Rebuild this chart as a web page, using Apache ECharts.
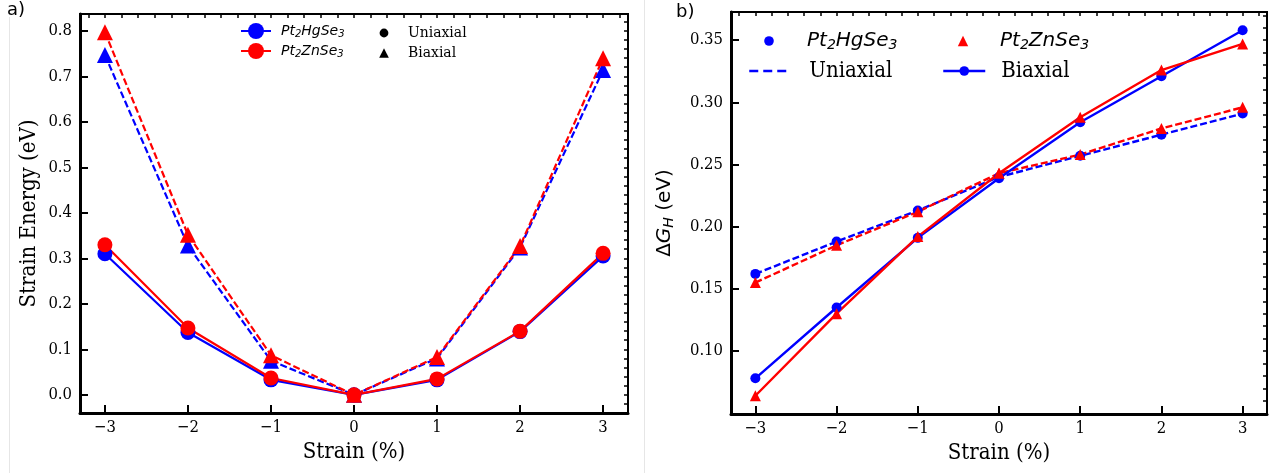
<!DOCTYPE html>
<html>
<head>
<meta charset="utf-8">
<script src="https://cdn.jsdelivr.net/npm/echarts@6/dist/echarts.min.js"></script>
<style>
  html, body { margin: 0; padding: 0; background: #fff; }
  #chart { width: 1276px; height: 473px; }
</style>
</head>
<body>
<div id="chart"></div>
<script>
// strain (%)
const strain = [-3, -2, -1, 0, 1, 2, 3]

// a) strain energy (eV)
const energyHgUni = [0.310, 0.137, 0.033, 0.000, 0.033, 0.139, 0.305]
const energyZnUni = [0.330, 0.147, 0.037, 0.000, 0.035, 0.140, 0.311]
const energyHgBi = [0.747, 0.328, 0.075, 0.000, 0.080, 0.324, 0.714]
const energyZnBi = [0.797, 0.352, 0.087, 0.000, 0.083, 0.327, 0.740]

// b) ΔG_H (eV)
const dgHgUni = [0.162, 0.188, 0.213, 0.240, 0.257, 0.274, 0.291]
const dgZnUni = [0.155, 0.185, 0.212, 0.243, 0.258, 0.279, 0.296]
const dgHgBi = [0.078, 0.135, 0.191, 0.239, 0.284, 0.321, 0.358]
const dgZnBi = [0.064, 0.130, 0.192, 0.243, 0.288, 0.326, 0.347]

// tick labels
const xTicks = [-3, -2, -1, 0, 1, 2, 3]
const energyTicks = [0.0, 0.1, 0.2, 0.3, 0.4, 0.5, 0.6, 0.7, 0.8]
const dgTicks = [0.10, 0.15, 0.20, 0.25, 0.30, 0.35]

const BLUE = '#0000ff'
const RED = '#ff0000'
const SERIF = "'DejaVu Serif Condensed', 'DejaVu Serif'"
const SANS = 'DejaVu Sans'

// minor tick positions
function steps(lo, hi, step) {
  const out = []
  for (let v = lo; v <= hi + 1e-9; v += step) out.push(Math.round(v * 1000) / 1000)
  return out
}
const minus = s => String(s).replace('-', '\u2212')

const pairs = values => strain.map((s, i) => [s, values[i]])

function line(name, values, g, color, symbol, size, dashed, width) {
  return {
    name: name,
    type: 'line',
    xAxisIndex: g * 2,
    yAxisIndex: g * 2,
    data: pairs(values),
    symbol: symbol,
    symbolSize: size,
    showAllSymbol: true,
    color: color,
    lineStyle: { color: color, width: width, type: dashed ? [7, 3] : 'solid' },
    itemStyle: { color: color, borderWidth: 0 },
    silent: true,
    animation: false,
  }
}

// legend-only series (no data)
function key(name, g, color, symbol, lineW, dashed) {
  return {
    name: name,
    type: 'line',
    xAxisIndex: g * 2,
    yAxisIndex: g * 2,
    data: [],
    symbol: symbol,
    color: color,
    lineStyle: { color: color, width: lineW, opacity: lineW ? 1 : 0, type: dashed ? [9, 5] : 'solid' },
    itemStyle: { color: color, borderWidth: 0 },
    animation: false,
  }
}

const labels = {
  'a:Hg': '{i|Pt}{s|2}{i|HgSe}{s|3}',
  'a:Zn': '{i|Pt}{s|2}{i|ZnSe}{s|3}',
  'a:Uni': '{r|Uniaxial}',
  'a:Bi': '{r|Biaxial}',
  'b:Hg': '{I|Pt}{S|2}{I|HgSe}{S|3}',
  'b:Zn': '{I|Pt}{S|2}{I|ZnSe}{S|3}',
  'b:Uni': '{R|Uniaxial}',
  'b:Bi': '{R|Biaxial}',
}
const rich = {
  i: { fontFamily: SANS, fontStyle: 'italic', fontSize: 14, lineHeight: 16, color: '#000' },
  s: { fontFamily: SANS, fontStyle: 'italic', fontSize: 10, lineHeight: 6, verticalAlign: 'bottom', color: '#000' },
  r: { fontFamily: SERIF, fontSize: 15.5, lineHeight: 16, color: '#000' },
  I: { fontFamily: SANS, fontStyle: 'italic', fontSize: 20, lineHeight: 22, color: '#000' },
  S: { fontFamily: SANS, fontStyle: 'italic', fontSize: 14, lineHeight: 8, verticalAlign: 'bottom', color: '#000' },
  R: { fontFamily: SERIF, fontSize: 22, lineHeight: 22, color: '#000' },
}

function legend(name, left, yc, w, h, pad, extra) {
  const textH = name[0] === 'a' ? 16 : 22
  return Object.assign({
    data: [name],
    left: left,
    top: yc - Math.max(h, textH) / 2,
    padding: 0,
    itemWidth: w,
    itemHeight: h,
    selectedMode: false,
    formatter: n => labels[n],
    textStyle: { padding: [0, 0, 0, pad], rich: rich },
  }, extra || {})
}

function xAxes(g) {
  return [
    {
      gridIndex: g, type: 'value', min: -3.3, max: 3.3,
      axisLine: { onZero: false, lineStyle: { color: '#000', width: 3 } },
      axisTick: { inside: true, length: 8, customValues: xTicks, lineStyle: { color: '#000', width: 2 } },
      axisLabel: { customValues: xTicks, formatter: minus, margin: 6, color: '#000', fontFamily: SERIF, fontSize: 16.5 },
      splitLine: { show: false },
      name: 'Strain (%)', nameLocation: 'middle', nameGap: 26,
      nameTextStyle: { fontFamily: SERIF, fontSize: 22, color: '#000' },
    },
    {
      gridIndex: g, type: 'value', min: -3.3, max: 3.3,
      axisLine: { show: false, onZero: false },
      axisTick: { inside: true, length: 4, customValues: steps(-3.2, 3.2, 0.2), lineStyle: { color: '#000', width: 1.5 } },
      axisLabel: { show: false },
      splitLine: { show: false },
    },
  ]
}

function yAxes(g, min, max, ticks, minor, digits, name, gap) {
  return [
    {
      gridIndex: g, type: 'value', min: min, max: max,
      axisLine: { onZero: false, lineStyle: { color: '#000', width: 3 } },
      axisTick: { inside: true, length: 8, customValues: ticks, lineStyle: { color: '#000', width: 2 } },
      axisLabel: { customValues: ticks, formatter: v => v.toFixed(digits), margin: 8, color: '#000', fontFamily: SERIF, fontSize: 16.5 },
      splitLine: { show: false },
      name: name, nameLocation: 'middle', nameGap: gap,
      nameTextStyle: {
        fontFamily: SERIF, fontSize: 22, color: '#000',
        rich: {
          n: { fontFamily: SANS, fontSize: 20, lineHeight: 22, color: '#000' },
          g: { fontFamily: SANS, fontStyle: 'italic', fontSize: 20, lineHeight: 22, color: '#000' },
          h: { fontFamily: SANS, fontStyle: 'italic', fontSize: 14, lineHeight: 8, verticalAlign: 'bottom', color: '#000' },
        },
      },
    },
    {
      gridIndex: g, type: 'value', min: min, max: max,
      axisLine: { show: false, onZero: false },
      axisTick: { inside: true, length: 4, customValues: minor, lineStyle: { color: '#000', width: 1.5 } },
      axisLabel: { show: false },
      splitLine: { show: false },
    },
  ]
}

const chart = echarts.init(document.getElementById('chart'), null, { renderer: 'canvas' })

chart.setOption({
  backgroundColor: '#fff',
  animation: false,
  grid: [
    { left: 80, top: 14, width: 548, height: 399, show: true, borderColor: '#000', borderWidth: 2 },
    { left: 731, top: 12, width: 536, height: 402, show: true, borderColor: '#000', borderWidth: 2 },
  ],
  xAxis: [...xAxes(0), ...xAxes(1)],
  yAxis: [
    ...yAxes(0, -0.0399, 0.837, energyTicks, steps(-0.02, 0.82, 0.02), 1, 'Strain Energy (eV)', 40),
    ...yAxes(1, 0.0493, 0.3727, dgTicks, steps(0.06, 0.37, 0.01), 2, '{n|\u0394}{g|G}{h|H}{n| (eV)}', 55),
  ],
  legend: [
    legend('a:Hg', 240, 33, 30, 20, 5, { lineStyle: { width: 2 } }),
    legend('a:Zn', 240, 53, 30, 20, 5, { lineStyle: { width: 2 } }),
    legend('a:Uni', 374, 33, 20, 11, 9),
    legend('a:Bi', 374, 53, 20, 12, 9),
    legend('b:Hg', 748, 42, 42, 12, 12),
    legend('b:Zn', 942, 42, 42, 13, 11),
    legend('b:Uni', 748, 71, 42, 12, 13, { itemStyle: { opacity: 0 }, lineStyle: { width: 2.5 } }),
    legend('b:Bi', 942, 71, 42, 12, 11, { lineStyle: { width: 2.5 } }),
  ],
  graphic: [
    { type: 'text', left: 7, top: 1, style: { text: 'a)', fontFamily: SANS, fontSize: 18, fill: '#000' } },
    { type: 'text', left: 676, top: 3, style: { text: 'b)', fontFamily: SANS, fontSize: 18, fill: '#000' } },
    { type: 'line', shape: { x1: 9.5, y1: 17, x2: 9.5, y2: 473 }, style: { stroke: '#e6e6e6', lineWidth: 1 } },
    { type: 'line', shape: { x1: 644.5, y1: 0, x2: 644.5, y2: 473 }, style: { stroke: '#e6e6e6', lineWidth: 1 } },
  ],
  series: [
    line('Pt2HgSe3 uniaxial energy', energyHgUni, 0, BLUE, 'circle', 15, false, 2.2),
    line('Pt2HgSe3 biaxial energy', energyHgBi, 0, BLUE, 'triangle', 16, true, 2.2),
    line('Pt2ZnSe3 uniaxial energy', energyZnUni, 0, RED, 'circle', 15, false, 2.2),
    line('Pt2ZnSe3 biaxial energy', energyZnBi, 0, RED, 'triangle', 16, true, 2.2),
    line('Pt2HgSe3 uniaxial dG', dgHgUni, 1, BLUE, 'circle', 10, true, 2.4),
    line('Pt2ZnSe3 uniaxial dG', dgZnUni, 1, RED, 'triangle', 11, true, 2.4),
    line('Pt2HgSe3 biaxial dG', dgHgBi, 1, BLUE, 'circle', 10, false, 2.4),
    line('Pt2ZnSe3 biaxial dG', dgZnBi, 1, RED, 'triangle', 11, false, 2.4),
    key('a:Hg', 0, BLUE, 'circle', 2, false),
    key('a:Zn', 0, RED, 'circle', 2, false),
    key('a:Uni', 0, '#000', 'circle', 0, false),
    key('a:Bi', 0, '#000', 'triangle', 0, false),
    key('b:Hg', 1, BLUE, 'circle', 0, false),
    key('b:Zn', 1, RED, 'triangle', 0, false),
    key('b:Uni', 1, BLUE, 'none', 2.5, true),
    key('b:Bi', 1, BLUE, 'circle', 2.5, false),
  ],
})
</script>
</body>
</html>
